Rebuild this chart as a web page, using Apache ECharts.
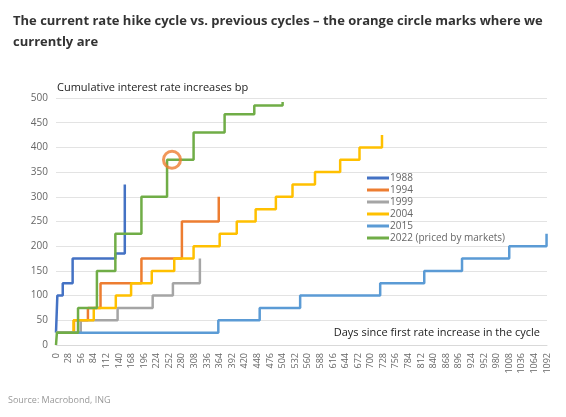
<!DOCTYPE html>
<html><head><meta charset="utf-8">
<script src="https://cdn.jsdelivr.net/npm/echarts@6/dist/echarts.min.js"></script>
<style>html,body{margin:0;background:#fff}#main{width:566px;height:417px}</style>
</head><body><div id="main"></div>
<script>
// [day, cumulative bp] at each hike
var s1988 = [[0,25],[3,100],[15,125],[37,175],[132,185],[153,325]];
var s1994 = [[0,25],[40,50],[71,75],[99,125],[190,175],[280,250],[362,300]];
var s1999 = [[0,25],[55,50],[137,75],[215,100],[260,125],[320,175]];
var s2004 = [[0,25],[39,50],[84,75],[133,100],[167,125],[213,150],[263,175],[306,200],[364,225],[402,250],[444,275],[489,300],[526,325],[576,350],[632,375],[675,400],[725,425]];
var s2015 = [[0,25],[361,50],[453,75],[543,100],[721,125],[819,150],[903,175],[1008,200],[1091,225]];
var s2022 = [[0,0],[2,25],[49,75],[91,150],[132,225],[190,300],[247,375],[306,430],[375,467],[441,485],[504,492]];
var currentPoint = [258, 375];

var names = ['1988','1994','1999','2004','2015','2022 (priced by markets)'];
var colors = ['#4472c4','#ed7d31','#a5a5a5','#ffc000','#5b9bd5','#70ad47'];
var datasets = [s1988, s1994, s1999, s2004, s2015, s2022];

var series = datasets.map(function (d, i) {
    return {
        name: names[i], type: 'line', step: 'end', data: d,
        showSymbol: false, lineStyle: { width: 2.5, color: colors[i] }, itemStyle: { color: colors[i] },
        z: i === 5 ? 5 : 3
    };
});
series.push({
    type: 'scatter', data: [currentPoint], symbolSize: 17, z: 10,
    itemStyle: { color: 'transparent', borderColor: '#ed7d31', borderWidth: 3 }
});

var option = {
    animation: false,
    backgroundColor: '#fff',
    textStyle: { fontFamily: 'Open Sans' },
    title: {
        text: 'The current rate hike cycle vs. previous cycles – the orange circle marks where we\ncurrently are',
        left: 8, top: 6,
        textStyle: { fontSize: 13, fontWeight: 'bold', color: '#333', lineHeight: 21 }
    },
    grid: { left: 56, right: 19, top: 98, bottom: 72 },
    legend: {
        data: names, orient: 'vertical', left: 362, top: 168, itemGap: 2,
        icon: 'rect', itemWidth: 22, itemHeight: 3,
        textStyle: { fontSize: 10, color: '#666', padding: [0, 0, 0, -4] }
    },
    xAxis: {
        type: 'value', min: 0, max: 1092, interval: 28,
        axisLabel: { rotate: 90, fontSize: 9, color: '#666', formatter: function (v) { return String(v); } },
        axisLine: { lineStyle: { color: '#d9d9d9' } },
        axisTick: { show: false },
        splitLine: { show: false }
    },
    yAxis: {
        type: 'value', min: 0, max: 500, interval: 50,
        axisLabel: { fontSize: 10, color: '#666' },
        axisLine: { show: false }, axisTick: { show: false },
        splitLine: { lineStyle: { color: '#e3e3e3' } }
    },
    graphic: [
        { type: 'text', left: 57, top: 82, style: { text: 'Cumulative interest rate increases bp', fontSize: 11, fill: '#222', fontFamily: 'Open Sans' } },
        { type: 'text', right: 26, top: 327, style: { text: 'Days since first rate increase in the cycle', fontSize: 11, fill: '#222', fontFamily: 'Open Sans' } },
        { type: 'text', left: 8, top: 396, style: { text: 'Source: Macrobond, ING', fontSize: 9, fill: '#999', fontFamily: 'Open Sans' } }
    ],
    series: series
};

var myChart = echarts.init(document.getElementById('main'));
myChart.setOption(option);
</script>
</body></html>
